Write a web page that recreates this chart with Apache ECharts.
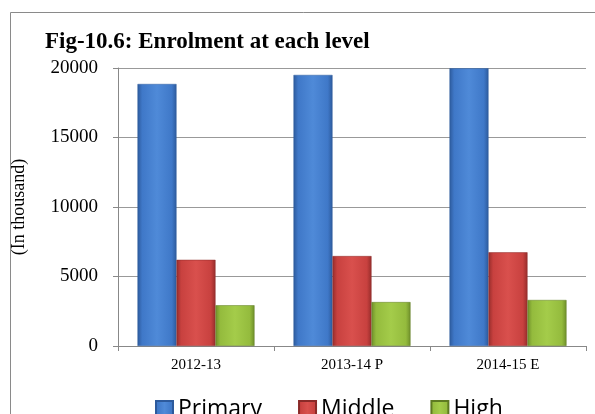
<!DOCTYPE html>
<html><head><meta charset="utf-8">
<script src="https://cdn.jsdelivr.net/npm/echarts@6/dist/echarts.min.js"></script>
<style>html,body{margin:0;padding:0;background:#fff}#c{width:595px;height:414px}</style>
</head><body><div id="c"></div>
<script>
const categories = ['2012-13', '2013-14 P', '2014-15 E'];
const primary = [18850, 19500, 19980];
const middle = [6200, 6470, 6740];
const high = [2930, 3160, 3310];
const yTicks = [0, 5000, 10000, 15000, 20000];

function grad(light, mid, dark) {
  return new echarts.graphic.LinearGradient(0, 0, 1, 0, [
    {offset: 0, color: dark}, {offset: 0.12, color: mid}, {offset: 0.5, color: light},
    {offset: 0.88, color: mid}, {offset: 1, color: dark}
  ]);
}
const colors = {
  Primary: grad('#4f8ad8', '#3f78c8', '#2d5a9c'),
  Middle: grad('#d9504d', '#c8413f', '#962d2b'),
  High: grad('#a4cc4a', '#94bb3d', '#6f8f2a')
};
const chart = echarts.init(document.getElementById('c'));
chart.setOption({
  animation: false,
  graphic: [{type: 'rect', shape: {x: 10.5, y: 12.5, width: 600, height: 500}, style: {fill: 'none', stroke: '#8a8a8a', lineWidth: 1}}],
  title: {text: 'Fig-10.6: Enrolment at each level', left: 40, top: 26,
    textStyle: {fontFamily: 'Liberation Serif', fontWeight: 'bold', fontSize: 23, color: '#000'}},
  grid: {left: 118, right: 9, top: 68, bottom: 68},
  legend: {bottom: -12, left: 150, itemGap: 36, itemWidth: 17, itemHeight: 17, icon: 'rect',
    textStyle: {fontFamily: 'Open Sans', fontSize: 23, color: '#000'},
    data: ['Primary', 'Middle', 'High']},
  xAxis: {type: 'category', data: categories,
    axisLine: {lineStyle: {color: '#888'}}, axisTick: {show: true, length: 5, lineStyle: {color: '#888'}},
    axisLabel: {fontFamily: 'Liberation Serif', fontSize: 15, color: '#000', margin: 12}},
  yAxis: {type: 'value', min: 0, max: 20000, interval: 5000,
    name: '(In thousand)', nameLocation: 'middle', nameGap: 90,
    nameTextStyle: {fontFamily: 'Liberation Serif', fontSize: 18, color: '#000'},
    axisLine: {show: true, lineStyle: {color: '#888'}}, axisTick: {show: true, length: 5, lineStyle: {color: '#888'}},
    splitLine: {lineStyle: {color: '#999'}},
    axisLabel: {fontFamily: 'Liberation Serif', fontSize: 19, color: '#000', margin: 20,
      formatter: v => yTicks.includes(v) ? String(v) : ''}},
  series: [
    {name: 'Primary', type: 'bar', data: primary, barGap: '0%', barCategoryGap: '25%',
      itemStyle: {color: colors.Primary, borderColor: '#2d5a9c', borderWidth: 0.5}},
    {name: 'Middle', type: 'bar', data: middle,
      itemStyle: {color: colors.Middle, borderColor: '#8a2a28', borderWidth: 0.5}},
    {name: 'High', type: 'bar', data: high,
      itemStyle: {color: colors.High, borderColor: '#5e7a22', borderWidth: 0.5}}
  ]
});
</script></body></html>
